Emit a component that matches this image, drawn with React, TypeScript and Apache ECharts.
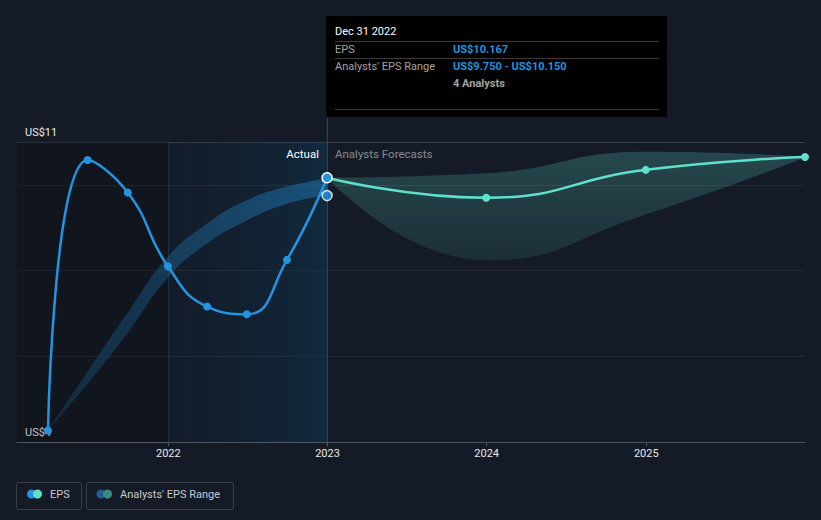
import React, { useEffect, useRef } from 'react';
import * as echarts from 'echarts';

// ---- data ----
const actualDates = ['2021-03-31', '2021-06-30', '2021-09-30', '2021-12-31', '2022-03-31', '2022-06-30', '2022-09-30', '2022-12-31'];
const actualEps = [4.27, 10.58, 9.82, 8.1, 7.16, 6.98, 8.25, 10.167];
const pastRangeLow = [4.27, 5.36, 6.55, 7.84, 8.63, 9.17, 9.56, 9.75];
const pastRangeHigh = [4.27, 5.65, 7.02, 8.32, 9.1, 9.64, 9.96, 10.15];

const forecastDates = ['2022-12-31', '2023-12-31', '2024-12-31', '2025-12-31'];
const forecastEps = [10.167, 9.7, 10.35, 10.65];
const forecastRangeLow = [10.167, 8.24, 9.31, 10.64];
const forecastRangeHigh = [10.167, 10.27, 10.77, 10.66];

const yLabels: Record<number, string> = { 4: 'US$4', 11: 'US$11' };
const axisStart = '2021-01-19';
const axisEnd = '2025-12-31';
const pastShadeEnd = '2022-01-01';
const pointerDate = '2022-12-31';

const tooltipTitle = 'Dec 31 2022';
const tooltipEps = 'US$10.167';
const tooltipRange = 'US$9.750 - US$10.150';
const tooltipAnalysts = '4 Analysts';

const BLUE = '#2394df';
const TEAL = '#5fe0cb';
const FONT = 'Roboto, "Noto Sans", sans-serif';

const pairs = (d: string[], v: number[]) => d.map((x, i) => [x, v[i]]);
const diffs = (lo: number[], hi: number[]) => hi.map((h, i) => +(h - lo[i]).toFixed(4));

export default function App() {
  const ref = useRef<HTMLDivElement>(null);

  useEffect(() => {
    document.body.style.margin = '0';
    document.body.style.background = '#151b26';
    const chart = echarts.init(ref.current!, undefined, { renderer: 'svg' });

    const epsData: any[] = pairs(actualDates, actualEps);
    const last = epsData.length - 1;
    epsData[last] = {
      value: epsData[last],
      symbolSize: 10,
      itemStyle: { color: BLUE, borderColor: '#ffffff', borderWidth: 1.5 },
    };

    chart.setOption({
      animation: false,
      backgroundColor: '#151b26',
      textStyle: { fontFamily: FONT },
      grid: { left: 17, right: 16, top: 142, bottom: 78 },
      xAxis: {
        type: 'time',
        z: 0,
        min: axisStart,
        max: axisEnd,
        minInterval: 365 * 24 * 3600 * 1000,
        axisLine: { lineStyle: { color: '#50565f', width: 1 } },
        axisTick: { show: true, length: 4, lineStyle: { color: '#50565f' } },
        axisLabel: {
          color: '#e8e8e8',
          fontSize: 11,
          margin: 6,
          fontFamily: FONT,
          formatter: (v: number) => {
            const d = new Date(v);
            return d.getMonth() === 0 && d.getDate() === 1 ? String(d.getFullYear()) : '';
          },
        },
        splitLine: { show: false },
      },
      yAxis: {
        type: 'value',
        z: 0,
        min: 4,
        max: 11,
        interval: 2,
        axisLine: { show: false },
        axisTick: { show: false },
        axisLabel: {
          inside: true,
          margin: 8,
          verticalAlign: 'bottom',
          padding: [0, 0, 4, 0],
          color: '#e8e8e8',
          fontSize: 11,
          fontFamily: FONT,
          formatter: (v: number) => yLabels[v] || '',
        },
        splitLine: {
          lineStyle: { color: ['rgba(0,0,0,0)', '#262c37', '#262c37', '#262c37', '#3a3f48'], width: 1 },
        },
      },
      series: [
        {
          name: 'pastLow',
          type: 'line',
          stack: 'past',
          smooth: true,
          symbol: 'none',
          lineStyle: { opacity: 0 },
          data: pairs(actualDates, pastRangeLow),
          z: 1,
          markArea: {
            silent: true,
            data: [
              [{ xAxis: axisStart, itemStyle: { color: 'rgba(0,0,0,0.2)' } }, { xAxis: pastShadeEnd }],
              [
                {
                  xAxis: pastShadeEnd,
                  itemStyle: {
                    color: new echarts.graphic.LinearGradient(0, 0, 1, 0, [
                      { offset: 0, color: 'rgba(8,40,70,0.1)' },
                      { offset: 1, color: 'rgba(8,70,110,0.32)' },
                    ]),
                  },
                },
                { xAxis: pointerDate },
              ],
            ],
          },
          markLine: {
            silent: true,
            symbol: 'none',
            label: { show: false },
            lineStyle: { color: 'rgba(35,148,223,0.2)', type: 'solid', width: 1 },
            data: [{ xAxis: pastShadeEnd }],
          },
        },
        {
          name: 'pastRange',
          type: 'line',
          stack: 'past',
          smooth: true,
          symbol: 'none',
          lineStyle: { opacity: 0 },
          areaStyle: {
            color: new echarts.graphic.LinearGradient(0, 0, 1, 0, [
              { offset: 0, color: 'rgba(35,148,223,0.25)' },
              { offset: 1, color: 'rgba(35,148,223,0.55)' },
            ]),
          },
          data: pairs(actualDates, diffs(pastRangeLow, pastRangeHigh)),
          z: 1,
        },
        {
          name: 'fcLow',
          type: 'line',
          stack: 'fc',
          smooth: true,
          symbol: 'none',
          lineStyle: { opacity: 0 },
          data: pairs(forecastDates, forecastRangeLow),
          z: 1,
        },
        {
          name: 'fcRange',
          type: 'line',
          stack: 'fc',
          smooth: true,
          symbol: 'none',
          lineStyle: { opacity: 0 },
          areaStyle: {
            color: new echarts.graphic.LinearGradient(0, 0, 0, 1, [
              { offset: 0, color: 'rgba(94,226,205,0.32)' },
              { offset: 1, color: 'rgba(94,226,205,0.14)' },
            ]),
          },
          data: pairs(forecastDates, diffs(forecastRangeLow, forecastRangeHigh)),
          z: 1,
        },
        {
          name: 'EPS forecast',
          type: 'line',
          smooth: true,
          symbol: 'circle',
          symbolSize: 8,
          lineStyle: { color: TEAL, width: 2.5 },
          itemStyle: { color: TEAL },
          data: pairs(forecastDates, forecastEps),
          z: 8,
        },
        {
          name: 'EPS',
          type: 'line',
          smooth: true,
          symbol: 'circle',
          symbolSize: 8,
          showAllSymbol: true,
          lineStyle: { color: BLUE, width: 2.5 },
          itemStyle: { color: BLUE },
          data: epsData,
          z: 9,
        },
        {
          name: 'rangeMarker',
          type: 'scatter',
          symbolSize: 10,
          itemStyle: { color: BLUE, borderColor: '#ffffff', borderWidth: 1.5 },
          data: [[pointerDate, pastRangeLow[pastRangeLow.length - 1]]],
          z: 10,
        },
      ],
    });

    const top = chart.convertToPixel({ gridIndex: 0 }, [pointerDate, 11]) as number[];
    const bot = chart.convertToPixel({ gridIndex: 0 }, [pointerDate, 4]) as number[];
    const px = Math.round(top[0]);
    const tipX = px - 1;
    const tipY = 16;
    const tipW = 341;
    const tipH = 101;
    const labelY = top[1] + 12;

    chart.setOption({
      graphic: [
        {
          type: 'line',
          silent: true,
          z: 5,
          shape: { x1: px + 0.5, y1: tipY + tipH, x2: px + 0.5, y2: bot[1] },
          style: { stroke: '#3a414d', lineWidth: 1 },
        },
        {
          type: 'text',
          z: 10,
          x: px - 8,
          y: labelY,
          style: { text: 'Actual', fill: '#ffffff', font: `11.5px ${FONT}`, align: 'right', verticalAlign: 'middle' },
        },
        {
          type: 'text',
          z: 10,
          x: px + 8,
          y: labelY,
          style: { text: 'Analysts Forecasts', fill: '#858a93', font: `11.5px ${FONT}`, align: 'left', verticalAlign: 'middle' },
        },
        {
          type: 'group',
          x: tipX,
          y: tipY,
          z: 20,
          children: [
            { type: 'rect', shape: { x: 0, y: 0, width: tipW, height: tipH }, style: { fill: '#000000' } },
            { type: 'text', x: 9, y: 15, style: { text: tooltipTitle, fill: '#ffffff', font: `11px ${FONT}`, verticalAlign: 'middle' } },
            { type: 'line', shape: { x1: 9, y1: 25.5, x2: 333, y2: 25.5 }, style: { stroke: '#3b3b3b', lineWidth: 1 } },
            { type: 'text', x: 9, y: 33, style: { text: 'EPS', fill: '#a3a3a3', font: `11px ${FONT}`, verticalAlign: 'middle' } },
            { type: 'text', x: 127, y: 33, style: { text: tooltipEps, fill: BLUE, font: `bold 11px ${FONT}`, verticalAlign: 'middle' } },
            { type: 'line', shape: { x1: 9, y1: 42.5, x2: 333, y2: 42.5 }, style: { stroke: '#3b3b3b', lineWidth: 1 } },
            { type: 'text', x: 9, y: 50.5, style: { text: "Analysts' EPS Range", fill: '#a3a3a3', font: `11px ${FONT}`, verticalAlign: 'middle' } },
            { type: 'text', x: 127, y: 50.5, style: { text: tooltipRange, fill: BLUE, font: `bold 11px ${FONT}`, verticalAlign: 'middle' } },
            { type: 'text', x: 127, y: 67.5, style: { text: tooltipAnalysts, fill: '#a3a3a3', font: `bold 11px ${FONT}`, verticalAlign: 'middle' } },
            { type: 'line', shape: { x1: 9, y1: 93.5, x2: 333, y2: 93.5 }, style: { stroke: '#3b3b3b', lineWidth: 1 } },
          ],
        },
        {
          type: 'group',
          x: 0,
          y: 0,
          z: 20,
          children: [
            { type: 'rect', shape: { x: 16.5, y: 482.5, width: 65, height: 27, r: 2 }, style: { fill: 'none', stroke: '#3a404a', lineWidth: 1 } },
            { type: 'circle', shape: { cx: 31.5, cy: 494, r: 4.5 }, style: { fill: BLUE } },
            { type: 'circle', shape: { cx: 37.5, cy: 494, r: 4.5 }, style: { fill: TEAL } },
            { type: 'text', x: 50, y: 494, style: { text: 'EPS', fill: '#c6cad1', font: `11px ${FONT}`, verticalAlign: 'middle' } },
            { type: 'rect', shape: { x: 86.5, y: 482.5, width: 147, height: 27, r: 2 }, style: { fill: 'none', stroke: '#3a404a', lineWidth: 1 } },
            { type: 'circle', shape: { cx: 101, cy: 494, r: 4.5 }, style: { fill: '#1f5f8f' } },
            { type: 'circle', shape: { cx: 107.5, cy: 494, r: 4.5 }, style: { fill: '#3c8a80' } },
            { type: 'text', x: 120, y: 494, style: { text: "Analysts' EPS Range", fill: '#c6cad1', font: `11px ${FONT}`, verticalAlign: 'middle' } },
          ],
        },
      ],
    });

    return () => chart.dispose();
  }, []);

  return (
    <div style={{ position: 'fixed', left: 0, top: 0, width: 821, height: 520, background: '#151b26' }}>
      <div ref={ref} style={{ width: 821, height: 520 }} />
    </div>
  );
}
